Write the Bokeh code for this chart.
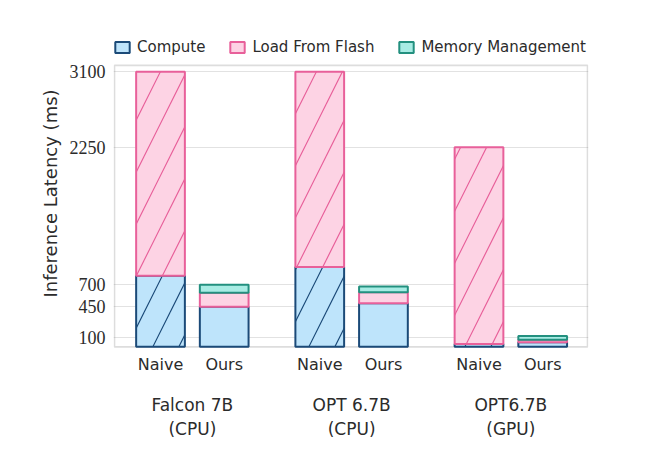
from bokeh.plotting import figure
from bokeh.models import (ColumnDataSource, FixedTicker, LinearAxis, Range1d,
                          Legend, LegendItem, BoxAnnotation)
from bokeh.embed import file_html
from bokeh.resources import INLINE

# ---- data ----
models = ["Falcon 7B\n(CPU)", "OPT 6.7B\n(CPU)", "OPT6.7B\n(GPU)"]
methods = ["Naive", "Ours"]
compute = [800, 450, 900, 490, 30, 50]
load_flash = [2300, 160, 2200, 125, 2220, 30]
memory_mgmt = [0, 90, 0, 65, 0, 40]
y_ticks = [100, 450, 700, 2250, 3100]

series = [
    ("Compute", compute, "#BEE4FB", "#1B4A78"),
    ("Load From Flash", load_flash, "#FDD3E4", "#E8609A"),
    ("Memory Management", memory_mgmt, "#A8ECE4", "#23907F"),
]

# positions
xs, labels = [], []
for gi, m in enumerate(models):
    for mi, meth in enumerate(methods):
        xs.append(gi * 2.5 + mi)
        labels.append(meth)

W, H = 665, 456
p = figure(width=W, height=H, output_backend="svg", toolbar_location=None,
           x_range=Range1d(-0.738, 6.719), y_range=Range1d(-20, 3476),
           min_border_left=113, min_border_right=W - 588, min_border_top=38,
           min_border_bottom=H - 348)

p.outline_line_color = None
p.xgrid.visible = False
p.ygrid.ticker = FixedTicker(ticks=y_ticks)
p.ygrid.grid_line_color = "#e2e2e2"
p.ygrid.grid_line_width = 1.2

# visible axis box (the plot area below the legend)
box = BoxAnnotation(left=-0.722, right=6.703, bottom=-2, top=3173,
                    fill_alpha=0, line_color="#8f8f8f", line_width=1.6,
                    level="underlay")
p.add_layout(box)

bottom = [0.0] * len(xs)
legend_items = []
for name, vals, fill, edge in series:
    for mi in range(2):
        idx = [i for i in range(len(xs)) if i % 2 == mi and vals[i] > 0]
        src = ColumnDataSource(dict(
            x=[xs[i] for i in idx],
            bottom=[bottom[i] for i in idx],
            top=[bottom[i] + vals[i] for i in idx],
        ))
        kw = {}
        if mi == 0:
            kw = dict(hatch_pattern="/", hatch_color=edge, hatch_scale=52,
                      hatch_weight=1.2)
        r = p.vbar(x="x", bottom="bottom", top="top", width=0.765, source=src,
                   fill_color=fill, line_color=edge, line_width=2, **kw)
        if mi == 1:
            legend_items.append(LegendItem(label=name, renderers=[r]))
    for i in range(len(xs)):
        bottom[i] += vals[i]

TXT = "#2b2b2b"
# y axis
ax = p.yaxis[0]
ax.ticker = FixedTicker(ticks=y_ticks)
ax.axis_line_color = None
ax.major_tick_line_color = None
ax.minor_tick_line_color = None
ax.major_label_text_font = "Liberation Serif"
ax.major_label_text_font_size = "18px"
ax.major_label_text_color = TXT
ax.major_label_standoff = 2
ax.axis_label = "Inference Latency (ms)"
ax.axis_label_text_font = "DejaVu Sans"
ax.axis_label_text_font_style = "normal"
ax.axis_label_text_font_size = "18px"
ax.axis_label_text_color = TXT
ax.axis_label_standoff = 6

# x axis: method labels
xa = p.xaxis[0]
xa.ticker = FixedTicker(ticks=xs)
xa.major_label_overrides = {x: l for x, l in zip(xs, labels)}
xa.axis_line_color = None
xa.major_tick_line_color = None
xa.minor_tick_line_color = None
xa.major_label_text_font = "DejaVu Sans"
xa.major_label_text_font_size = "16px"
xa.major_label_text_color = TXT
xa.major_label_standoff = 0

# second x axis: model labels
gx = [gi * 2.5 + 0.5 for gi in range(len(models))]
xa2 = LinearAxis(ticker=FixedTicker(ticks=gx),
                 major_label_overrides={x: m for x, m in zip(gx, models)})
xa2.axis_line_color = None
xa2.major_tick_line_color = None
xa2.minor_tick_line_color = None
xa2.major_label_text_font = "DejaVu Sans"
xa2.major_label_text_font_size = "17px"
xa2.major_label_text_color = TXT
xa2.major_label_standoff = 12
p.add_layout(xa2, "below")

legend = Legend(items=legend_items, orientation="horizontal",
                location=(0, 292), border_line_color=None,
                background_fill_alpha=0, padding=0, margin=0, spacing=23,
                glyph_width=18, glyph_height=14, label_standoff=6,
                label_text_font="DejaVu Sans", label_text_font_size="15px",
                label_text_color=TXT)
p.add_layout(legend, "center")

open("out.html", "w").write(file_html(p, INLINE))
